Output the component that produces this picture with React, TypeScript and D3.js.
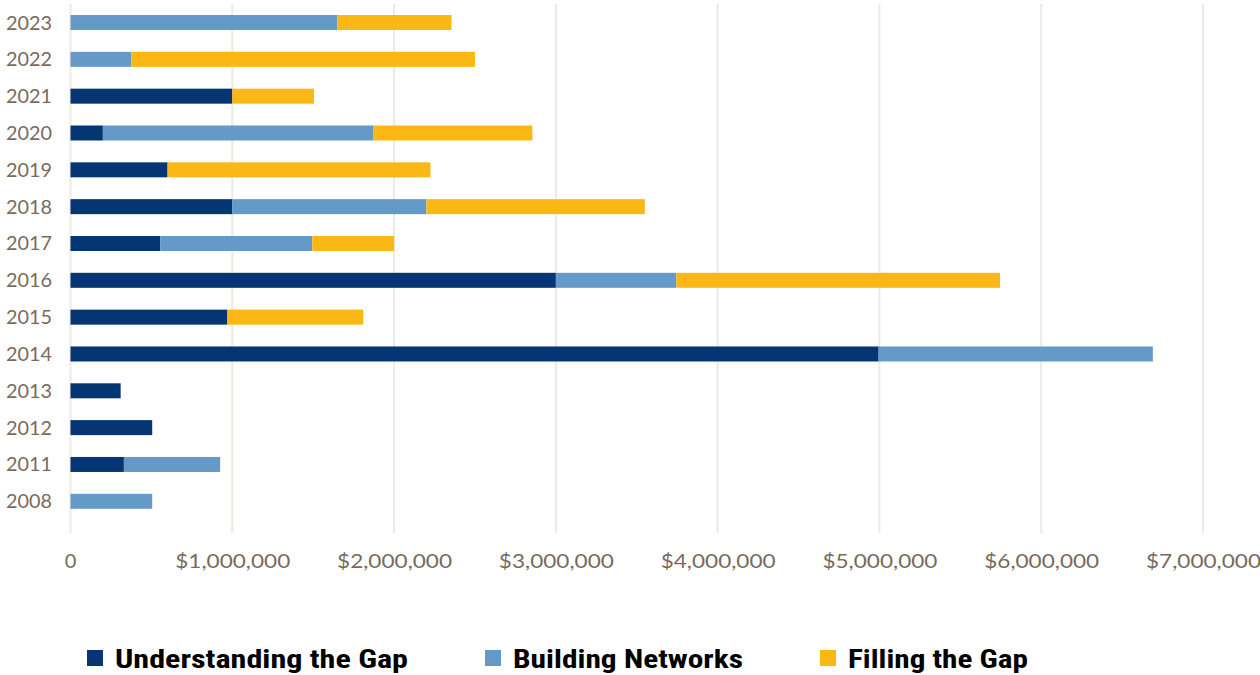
import React from "react";
import * as d3 from "d3";

const years = ["2023", "2022", "2021", "2020", "2019", "2018", "2017", "2016", "2015", "2014", "2013", "2012", "2011", "2008"];
const understanding = [0, 0, 1000000, 200000, 600000, 1000000, 555000, 3000000, 970000, 4995000, 310000, 505000, 330000, 0];
const building = [1650000, 375000, 0, 1670000, 0, 1200000, 940000, 745000, 0, 1695000, 0, 0, 595000, 505000];
const filling = [705000, 2125000, 505000, 985000, 1625000, 1350000, 505000, 2000000, 840000, 0, 0, 0, 0, 0];
const tickValues = [0, 1000000, 2000000, 3000000, 4000000, 5000000, 6000000, 7000000];
const seriesNames = ["Understanding the Gap", "Building Networks", "Filling the Gap"];
const colors = ["#053572", "#6599C8", "#FBB815"];

const W = 1260;
const H = 675;
const textColor = "#7A6A5D";

export default function App() {
  const x = d3.scaleLinear().domain([0, 7000000]).range([70.5, 1203]);
  const y = d3.scalePoint<string>().domain(years).range([4.1, 519.7]).padding(0.5);
  const barH = 15;

  const rows = years.map((yr, i) => ({
    yr,
    Understanding: understanding[i],
    Building: building[i],
    Filling: filling[i],
  }));
  const stacked = d3.stack<any>().keys(["Understanding", "Building", "Filling"])(rows);

  const fmt = (v: number) => (v === 0 ? "0" : "$" + d3.format(",")(v));

  const legendX = [87, 485, 820];
  const legendW = [293, 230, 180];

  return (
    <svg width={W} height={H} style={{ position: "absolute", left: 0, top: 0, background: "#fff" }}>
      <g>
        {tickValues.map((t) => (
          <line key={t} x1={x(t)} x2={x(t)} y1={4} y2={533} stroke="#EDE9E4" strokeWidth={2} />
        ))}
      </g>
      <g>
        {stacked.map((s, si) => (
          <g key={si} fill={colors[si]}>
            {s.map((d, di) =>
              d[1] - d[0] > 0 ? (
                <rect
                  key={di}
                  x={x(d[0])}
                  width={x(d[1]) - x(d[0])}
                  y={(y(years[di]) as number) - barH / 2}
                  height={barH}
                />
              ) : null
            )}
          </g>
        ))}
      </g>
      <g fontFamily="'Century Gothic', 'Lato', sans-serif" fontSize={19.5} fill={textColor}>
        {years.map((yr) => (
          <text key={yr} x={52} y={(y(yr) as number) + 7} textAnchor="end" textLength={46} lengthAdjust="spacingAndGlyphs">
            {yr}
          </text>
        ))}
        {tickValues.map((t) => (
          <text
            key={t}
            x={t === 0 ? x(t) : x(t) - 57}
            y={568}
            textAnchor={t === 0 ? "middle" : "start"}
            textLength={t === 0 ? undefined : 115}
            lengthAdjust="spacingAndGlyphs"
            fontSize={20}
          >
            {fmt(t)}
          </text>
        ))}
      </g>
      <g fontFamily="'Liberation Sans Narrow', 'Roboto Condensed', 'Liberation Sans', sans-serif" fontWeight="bold" fontSize={26} fill="#000">
        {seriesNames.map((n, i) => (
          <g key={n}>
            <rect x={legendX[i]} y={650} width={16} height={16} fill={colors[i]} />
            <text x={legendX[i] + 28} y={668} textLength={legendW[i]} lengthAdjust="spacingAndGlyphs">
              {n}
            </text>
          </g>
        ))}
      </g>
    </svg>
  );
}
